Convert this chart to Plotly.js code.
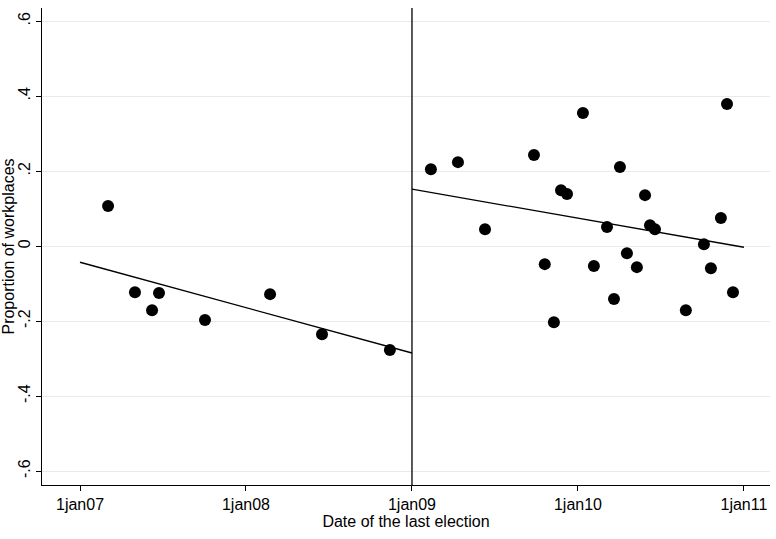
<!DOCTYPE html>
<html><head><script src="https://cdn.plot.ly/plotly-3.0.1.min.js"></script></head>
<body style="margin:0">
<div id="c" style="width:776px;height:539px"></div>
<script>
const xBefore=[2007.169,2007.331,2007.434,2007.476,2007.753,2008.145,2008.458,2008.867];
const yBefore=[0.107,-0.123,-0.171,-0.125,-0.197,-0.128,-0.235,-0.277];
const xAfter=[2009.114,2009.277,2009.44,2009.735,2009.80,2009.855,2009.898,2009.934,2010.03,2010.096,2010.175,2010.217,2010.253,2010.295,2010.355,2010.404,2010.434,2010.464,2010.65,2010.759,2010.801,2010.861,2010.898,2010.934];
const yAfter=[0.205,0.224,0.045,0.243,-0.048,-0.203,0.149,0.139,0.355,-0.053,0.051,-0.141,0.211,-0.019,-0.056,0.136,0.056,0.045,-0.171,0.005,-0.059,0.075,0.379,-0.123];
const fitBeforeX=[2007,2009], fitBeforeY=[-0.043,-0.285];
const fitAfterX=[2009,2011], fitAfterY=[0.152,-0.003];
const xTicks=[2007,2008,2009,2010,2011], xLabels=['1jan07','1jan08','1jan09','1jan10','1jan11'];
const yTicks=[-0.6,-0.4,-0.2,0,0.2,0.4,0.6], yLabels=['-.6','-.4','-.2','0','.2','.4','.6'];
const mk={color:'black',size:12};
Plotly.newPlot('c',[
 {x:xBefore,y:yBefore,mode:'markers',marker:mk,type:'scatter'},
 {x:xAfter,y:yAfter,mode:'markers',marker:mk,type:'scatter'},
 {x:fitBeforeX,y:fitBeforeY,mode:'lines',line:{color:'black',width:1.3}},
 {x:fitAfterX,y:fitAfterY,mode:'lines',line:{color:'black',width:1.3}}
],{
 showlegend:false,paper_bgcolor:'white',plot_bgcolor:'white',
 margin:{l:42,r:6,t:8,b:54},
 font:{family:'Liberation Sans, Arial',size:16,color:'black'},
 xaxis:{range:[2006.771,2011.157],tickvals:xTicks,ticktext:xLabels,showgrid:false,zeroline:false,
   showline:true,linecolor:'black',ticks:'outside',ticklen:5,tickcolor:'black',
   title:{text:'Date of the last election',standoff:2,font:{size:16}}},
 yaxis:{range:[-0.637,0.635],tickvals:yTicks,ticktext:yLabels,tickangle:-90,showgrid:true,gridcolor:'#eaeaea',
   zeroline:false,showline:true,linecolor:'black',ticks:'outside',ticklen:5,tickcolor:'black',
   title:{text:'Proportion of workplaces',standoff:2,font:{size:16}}},
 shapes:[{type:'line',xref:'x',yref:'paper',x0:2009,x1:2009,y0:0,y1:1,line:{color:'black',width:1.3}}]
},{displayModeBar:false});
</script></body></html>
